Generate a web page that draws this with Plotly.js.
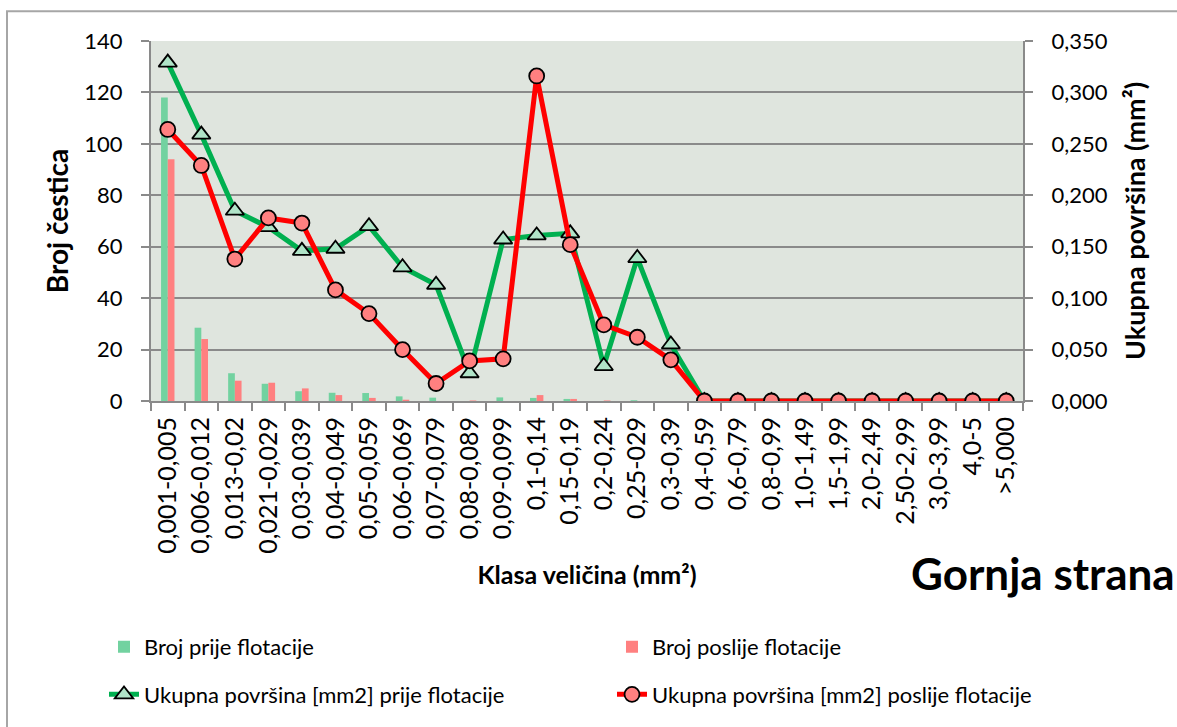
<!DOCTYPE html>
<html>
<head>
<meta charset="utf-8">
<script src="https://cdn.plot.ly/plotly-3.0.1.min.js"></script>
<style>html,body{margin:0;padding:0;background:#fff;}#chart{width:1177px;height:727px;}</style>
</head>
<body>
<div id="chart"></div>
<script>
// ---- data ----
const categories = ['0,001-0,005','0,006-0,012','0,013-0,02','0,021-0,029','0,03-0,039','0,04-0,049','0,05-0,059','0,06-0,069','0,07-0,079','0,08-0,089','0,09-0,099','0,1-0,14','0,15-0,19','0,2-0,24','0,25-029','0,3-0,39','0,4-0,59','0,6-0,79','0,8-0,99','1,0-1,49','1,5-1,99','2,0-2,49','2,50-2,99','3,0-3,99','4,0-5','>5,000'];
const brojPrije   = [118, 28.5, 10.8, 6.7, 3.8, 3.2, 3.1, 1.8, 1.3, 0, 1.4, 1.2, 0.8, 0, 0.3, 0, 0, 0, 0, 0, 0, 0, 0, 0, 0, 0];
const brojPoslije = [94, 24.1, 7.9, 7.1, 4.9, 2.3, 1.2, 0.5, 0, 0.2, 0, 2.3, 0.8, 0.2, 0, 0, 0, 0, 0, 0, 0, 0, 0, 0, 0, 0];
const povrsinaPrije   = [0.329, 0.259, 0.185, 0.169, 0.146, 0.148, 0.170, 0.130, 0.113, 0.027, 0.157, 0.161, 0.163, 0.034, 0.139, 0.055, 0, 0, 0, 0, 0, 0, 0, 0, 0, 0];
const povrsinaPoslije = [0.264, 0.229, 0.138, 0.178, 0.173, 0.108, 0.085, 0.050, 0.017, 0.039, 0.041, 0.316, 0.152, 0.074, 0.062, 0.040, 0, 0, 0, 0, 0, 0, 0, 0, 0, 0];
const seriesNames = ['Broj prije flotacije','Broj poslije flotacije','Ukupna površina [mm2] prije flotacije','Ukupna površina [mm2] poslije flotacije'];

// ---- layout geometry ----
const W = 1177, H = 727;
const L = 151, R = 1023, T = 41, B = 404;
const px2x = p => (p - L) / (R - L);
const py2y = p => (B - p) / (B - T);

const FONT = 'Lato, "Open Sans", sans-serif';
const GRID = '#8a8a8a';

const traces = [
  {type:'bar', x:categories, y:brojPrije, name:seriesNames[0], marker:{color:'#72d2a0'}, yaxis:'y', legend:'legend'},
  {type:'bar', x:categories, y:brojPoslije, name:seriesNames[1], marker:{color:'#ff8080'}, yaxis:'y', legend:'legend2'},
  {type:'scatter', mode:'lines+markers', x:categories, y:povrsinaPrije, name:seriesNames[2], yaxis:'y2', legend:'legend3',
   line:{color:'#00b050', width:5}, marker:{symbol:'triangle-up', size:16, color:'#b0e4c8', line:{color:'#000', width:1.8}}},
  {type:'scatter', mode:'lines+markers', x:categories, y:povrsinaPoslije, name:seriesNames[3], yaxis:'y2', legend:'legend4',
   line:{color:'#ff0000', width:5}, marker:{symbol:'circle', size:15, color:'#ff8080', line:{color:'#000', width:1.8}}}
];

const legendAt = (px, py) => ({
  x: px2x(px), xanchor: 'left', y: py2y(py), yanchor: 'middle',
  bgcolor: 'rgba(0,0,0,0)', borderwidth: 0,
  font: {family: FONT, size: 22, color: '#000'}
});

const layout = {
  width: W, height: H,
  margin: {l: L, r: W - R, t: T, b: H - B, pad: 0},
  paper_bgcolor: '#ffffff',
  plot_bgcolor: '#dfe5de',
  separators: ', ',
  font: {family: FONT, color: '#000'},
  showlegend: true,
  barmode: 'group',
  bargap: 0.6,
  bargroupgap: 0,
  xaxis: {
    type: 'category',
    range: [-0.5, categories.length - 0.5],
    tickangle: -90,
    tickfont: {family: FONT, size: 25, color: '#000'},
    ticks: 'outside', tickson: 'boundaries', ticklen: 8, tickwidth: 2, tickcolor: GRID,
    showline: true, linecolor: GRID, linewidth: 2,
    showgrid: false, zeroline: false,
    ticklabelstandoff: 4,
    title: {text: 'Klasa veličina (mm²)', font: {family: FONT, size: 25, color: '#000', weight: 'bold'}, standoff: 14}
  },
  yaxis: {
    range: [0, 140], dtick: 20,
    tickfont: {family: FONT, size: 22, color: '#000'},
    ticks: 'outside', ticklen: 8, tickwidth: 2, tickcolor: GRID,
    showline: true, linecolor: GRID, linewidth: 2,
    showgrid: true, gridcolor: GRID, gridwidth: 2,
    zeroline: false,
    ticklabelstandoff: 14,
    title: {text: 'Broj čestica', font: {family: FONT, size: 28, color: '#000', weight: 'bold'}, standoff: 8}
  },
  yaxis2: {
    overlaying: 'y', side: 'right',
    range: [0, 0.35], dtick: 0.05, tickformat: '.3f',
    tickfont: {family: FONT, size: 22, color: '#000'},
    ticks: 'outside', ticklen: 8, tickwidth: 2, tickcolor: GRID,
    showline: true, linecolor: GRID, linewidth: 2,
    showgrid: false, zeroline: false,
    ticklabelstandoff: 14,
    title: {text: 'Ukupna površina (mm²)', font: {family: FONT, size: 27, color: '#000', weight: 'bold'}, standoff: 19}
  },
  legend:  legendAt(104, 652),
  legend2: legendAt(612, 652),
  legend3: legendAt(104, 700),
  legend4: legendAt(612, 700),
  annotations: [
    {text: 'Gornja strana', xref: 'paper', yref: 'paper', x: px2x(1177), y: py2y(577), xanchor: 'right', yanchor: 'middle',
     showarrow: false, font: {family: FONT, size: 44, color: '#000', weight: 'bold'}}
  ],
  shapes: [
    {type: 'rect', xref: 'paper', yref: 'paper', x0: px2x(7), x1: px2x(1220), y0: py2y(780), y1: py2y(11),
     line: {color: '#a6a6a6', width: 2}, fillcolor: 'rgba(0,0,0,0)', layer: 'below'}
  ]
};

Plotly.newPlot('chart', traces, layout, {displayModeBar: false, staticPlot: true});
</script>
</body>
</html>
